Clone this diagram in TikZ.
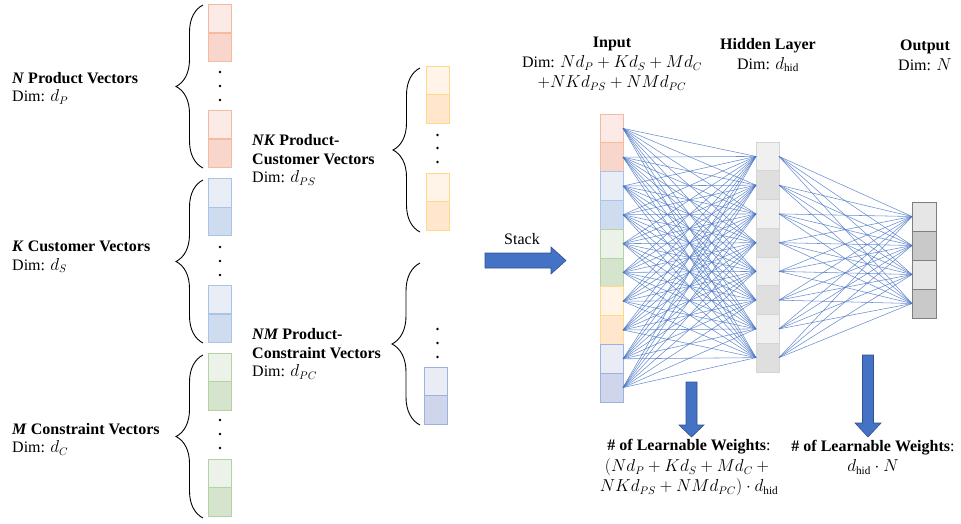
\documentclass[tikz,border=0pt]{standalone}
\usepackage{fontspec}
\setmainfont{Liberation Serif}
\usetikzlibrary{decorations.pathreplacing}

% vector cell colours (light / dark / border)
\definecolor{orL}{HTML}{FBEAE6}\definecolor{orD}{HTML}{F8D6CB}\definecolor{orB}{HTML}{F5BA9F}
\definecolor{blL}{HTML}{E8EDF6}\definecolor{blD}{HTML}{CFDCEF}\definecolor{blB}{HTML}{A9C4E8}
\definecolor{grL}{HTML}{ECF1E9}\definecolor{grD}{HTML}{D6E4CE}\definecolor{grB}{HTML}{B3D3A0}
\definecolor{yeL}{HTML}{FFF4E7}\definecolor{yeD}{HTML}{FFE6CC}\definecolor{yeB}{HTML}{FFD98A}
\definecolor{pcL}{HTML}{E9EBF5}\definecolor{pcD}{HTML}{CFD5EA}\definecolor{pcB}{HTML}{9EB2E0}
\definecolor{hdL}{HTML}{F0F0F0}\definecolor{hdD}{HTML}{DFDFDF}\definecolor{hdB}{HTML}{D4D4D4}
\definecolor{otL}{HTML}{E6E6E6}\definecolor{otD}{HTML}{C9C9C9}\definecolor{otB}{HTML}{7F7F7F}
\definecolor{wireblue}{HTML}{4472C4}
\definecolor{arrowfill}{HTML}{4472C4}
\definecolor{arrowline}{HTML}{2F528F}

\begin{document}
\begin{tikzpicture}[x=1pt,y=-1pt,
  cell/.style={line width=0.9pt, minimum width=23pt, minimum height=28.8pt, inner sep=0pt, outer sep=0pt},
  lo/.style={cell, fill=#1L, draw=#1B},
  hi/.style={cell, fill=#1D, draw=#1B},
  wire/.style={draw=wireblue, line width=0.55pt, opacity=0.8},
  vbrace/.style={draw=black, line width=0.9pt, decorate, decoration={brace, amplitude=#1}},
  lbl/.style={font=\fontsize{16}{18.5}\selectfont, inner sep=0pt},
  hdr/.style={font=\fontsize{16}{20}\selectfont, inner sep=0pt, align=center},
  blockarrow/.style={fill=arrowfill, draw=arrowline, line width=0.6pt},
  dotmark/.style={fill=black, draw=none}
]
\useasboundingbox (0,0) rectangle (961,523);

% ---------- product vectors ----------
\node[lo=or] (p1) at (220,18.5) {};
\node[hi=or] (p2) at (220,47.5) {};
\node[lo=or] (p3) at (220,124.5) {};
\node[hi=or] (p4) at (220,153.5) {};
\foreach \y in {72,86,100} \fill[dotmark] (220,\y) circle (1.3);
\draw[vbrace=27pt] (203,168) -- (203,5);
\node[lbl, anchor=west, align=left] (ptext) at (12,88)
  {\textbf{\textit{N} Product Vectors}\\Dim: $d_P$};

% ---------- customer vectors ----------
\node[lo=bl] (s1) at (220,193) {};
\node[hi=bl] (s2) at (220,221.5) {};
\node[lo=bl] (s3) at (220,299.5) {};
\node[hi=bl] (s4) at (220,328.5) {};
\foreach \y in {247,261,275} \fill[dotmark] (220,\y) circle (1.3);
\draw[vbrace=27pt] (203,343) -- (203,180);
\node[lbl, anchor=west, align=left] (stext) at (12,257)
  {\textbf{\textit{K} Customer Vectors}\\Dim: $d_S$};

% ---------- constraint vectors ----------
\node[lo=gr] (c1) at (220,367.5) {};
\node[hi=gr] (c2) at (220,396) {};
\node[lo=gr] (c3) at (220,473.5) {};
\node[hi=gr] (c4) at (220,502) {};
\foreach \y in {420,434,448} \fill[dotmark] (220,\y) circle (1.3);
\draw[vbrace=27pt] (203,518) -- (203,355);
\node[lbl, anchor=west, align=left] (ctext) at (12,439)
  {\textbf{\textit{M} Constraint Vectors}\\Dim: $d_C$};

% ---------- product-customer vectors ----------
\node[lo=ye] (ps1) at (437.5,80.5) {};
\node[hi=ye] (ps2) at (437.5,109) {};
\node[lo=ye] (ps3) at (437.5,187.5) {};
\node[hi=ye] (ps4) at (437.5,216) {};
\foreach \y in {135,148,162} \fill[dotmark] (437.5,\y) circle (1.3);
\draw[vbrace=27pt] (420,232) -- (420,68);
\node[lbl, anchor=west, align=left] (pstext) at (252,160)
  {\textbf{\textit{NK} Product-}\\\textbf{Customer Vectors}\\Dim: $d_{PS}$};

% ---------- product-constraint vectors ----------
\node[lo=pc] (pc1) at (436,381.5) {};
\node[hi=pc] (pc2) at (436,410) {};
\foreach \y in {329,343,357} \fill[dotmark] (437.5,\y) circle (1.3);
\draw[vbrace=28pt] (420,425) -- (420,263);
\node[lbl, anchor=west, align=left] (pctext) at (252,354)
  {\textbf{\textit{NM} Product-}\\\textbf{Constraint Vectors}\\Dim: $d_{PC}$};

% ---------- stack arrow ----------
\node[lbl] (stack) at (522,239) {Stack};
\path[blockarrow] (485,253) -- (551,253) -- (551,247) -- (566,260.5)
  -- (551,274) -- (551,268) -- (485,268) -- cycle;

% ---------- network columns ----------
\foreach \i/\c/\k in {1/or/lo,2/or/hi,3/bl/lo,4/bl/hi,5/gr/lo,6/gr/hi,7/ye/lo,8/ye/hi,9/pc/lo,10/pc/hi}
  \node[\k=\c] (in\i) at (611.5,{114+14.4+28.8*(\i-1)}) {};
\foreach \i in {1,...,8}{
  \pgfmathtruncatemacro{\odd}{mod(\i,2)}
  \ifnum\odd=1 \node[lo=hd] (hd\i) at (767.5,{142+14.4+28.75*(\i-1)}) {};
  \else \node[hi=hd] (hd\i) at (767.5,{142+14.4+28.75*(\i-1)}) {}; \fi
}
\foreach \i in {1,...,4}{
  \pgfmathtruncatemacro{\odd}{mod(\i,2)}
  \ifnum\odd=1 \node[lo=ot, minimum width=24pt, minimum height=29pt] (out\i) at (924,{202+14.5+29*(\i-1)}) {};
  \else \node[hi=ot, minimum width=24pt, minimum height=29pt] (out\i) at (924,{202+14.5+29*(\i-1)}) {}; \fi
}

% fully connected weights
\foreach \i in {1,...,10}
  \foreach \j in {1,...,8}
    \draw[wire] (in\i.east) -- (hd\j.west);
\foreach \i in {1,...,8}
  \foreach \j in {1,...,4}
    \draw[wire] (hd\i.east) -- (out\j.west);

% ---------- layer headers ----------
\node[hdr] (inhdr) at (612,64)
  {\textbf{Input}\\Dim: $Nd_P + Kd_S + Md_C$\\$+NKd_{PS} + NMd_{PC}$};
\node[hdr] (hdhdr) at (768,55)
  {\textbf{Hidden Layer}\\Dim: $d_{\mathrm{hid}}$};
\node[hdr] (othdr) at (925,55)
  {\textbf{Output}\\Dim: $N$};

% ---------- weight-count arrows ----------
\path[blockarrow] (686,382) -- (697,382) -- (697,425) -- (704,425) -- (691.5,437)
  -- (679,425) -- (686,425) -- cycle;
\path[blockarrow] (862.5,355) -- (873.5,355) -- (873.5,423) -- (881,423) -- (868,437)
  -- (855,423) -- (862.5,423) -- cycle;

\node[hdr, font=\fontsize{16}{20.5}\selectfont] (w1) at (689,468)
  {\textbf{\# of Learnable Weights}:\\$(Nd_P + Kd_S + Md_C +{}$\\$NKd_{PS} + NMd_{PC}) \cdot d_{\mathrm{hid}}$};
\node[hdr, font=\fontsize{16}{20.5}\selectfont] (w2) at (873,457)
  {\textbf{\# of Learnable Weights}:\\$d_{\mathrm{hid}} \cdot N$};
\end{tikzpicture}
\end{document}
